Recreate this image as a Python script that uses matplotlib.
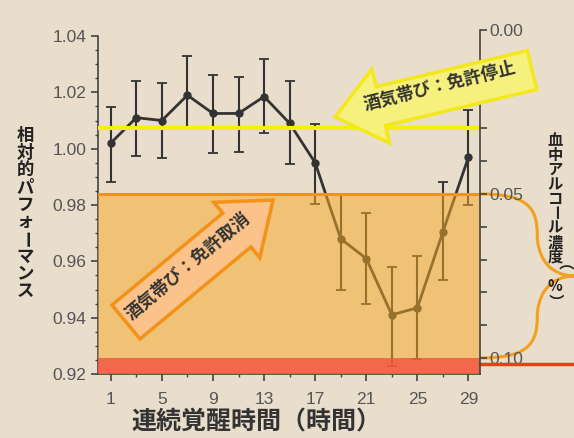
import numpy as np
import matplotlib
matplotlib.use('Agg')
import matplotlib.pyplot as plt
from matplotlib.path import Path
from matplotlib.patches import PathPatch, FancyArrow
import matplotlib.transforms as mtransforms

# data
hours = [1, 3, 5, 7, 9, 11, 13, 15, 17, 19, 21, 23, 25, 27, 29]
perf = [1.002, 1.011, 1.010, 1.019, 1.0125, 1.0125, 1.0185, 1.009,
        0.995, 0.968, 0.961, 0.941, 0.9435, 0.9705, 0.997]
upper = [1.0148, 1.024, 1.0233, 1.033, 1.0262, 1.0255, 1.0318, 1.024,
         1.0088, 0.984, 0.9772, 0.958, 0.962, 0.988, 1.0138]
lower = [0.988, 0.9975, 0.9967, 1.0074, 0.9985, 0.9989, 1.0056, 0.9946,
         0.9804, 0.950, 0.945, 0.923, 0.9255, 0.9535, 0.980]

bac_stop = 0.03      # 免許停止
bac_revoke = 0.05    # 免許取消
bac_high = 0.10

xticks = [1, 5, 9, 13, 17, 21, 25, 29]
yticks = [0.92, 0.94, 0.96, 0.98, 1.00, 1.02, 1.04]
rticks = [0.00, 0.05, 0.10]

jp = ['Noto Sans CJK JP', 'DejaVu Sans']
num = ['Liberation Sans', 'DejaVu Sans']
bg = '#e9ddcc'
gray = '#555555'

fig = plt.figure(figsize=(5.74, 4.38), dpi=100, facecolor=bg)

# main axis (performance)
ax = fig.add_axes([0.1707, 0.1461, 0.6655, 0.7717])
ax.patch.set_visible(False)
err = [np.array(perf) - np.array(lower), np.array(upper) - np.array(perf)]
ax.errorbar(hours, perf, yerr=err, color='#333333', lw=2, marker='o', ms=5,
            ecolor='#333333', elinewidth=1.5, capsize=3.5, capthick=1.3)
ax.set_xlim(0, 29.9)
ax.set_ylim(0.92, 1.04)
ax.set_xticks(xticks)
ax.set_xticks(hours, minor=True)
ax.set_yticks(yticks)
ax.set_yticks(np.arange(0.92, 1.0401, 0.005), minor=True)
ax.set_yticklabels(['%.2f' % v for v in yticks])
for s in ['top', 'right']:
    ax.spines[s].set_visible(False)
for s in ['left', 'bottom']:
    ax.spines[s].set_color('#444444')
    ax.spines[s].set_linewidth(1.2)
ax.tick_params(which='major', direction='out', length=5, width=1.2, color='#444444',
               labelcolor=gray, labelsize=12.5)
ax.tick_params(which='minor', direction='out', length=2.5, width=1, color='#444444')
ax.tick_params(axis='x', pad=8)
for lab in ax.get_xticklabels() + ax.get_yticklabels():
    lab.set_family(num)

# right axis (blood alcohol), drawn on top of the data
ax2 = fig.add_axes([0.1707, 0.1461, 0.6655, 0.7854])
ax2.patch.set_visible(False)
ax2.set_xlim(ax.get_xlim())
ax2.set_ylim(0.1049, 0.0)
ax2.set_xticks([])
ax2.yaxis.tick_right()
ax2.set_yticks(rticks)
ax2.set_yticks(np.arange(0, 0.101, 0.01), minor=True)
ax2.set_yticklabels(['%.2f' % v for v in rticks])
for s in ['top', 'left', 'bottom']:
    ax2.spines[s].set_visible(False)
ax2.spines['right'].set_color('#444444')
ax2.spines['right'].set_linewidth(1.2)
ax2.tick_params(which='both', direction='out', length=5, width=1.2, color='#444444',
                labelcolor=gray, labelsize=12.5, pad=2)
for lab in ax2.get_yticklabels():
    lab.set_family(num)

ax2.axhspan(bac_revoke, bac_high, color='#f6ab26', alpha=0.52, lw=0)
ax2.axhspan(bac_high, 0.1049, color='#f55a3c', alpha=0.9, lw=0)
ax2.axhline(bac_revoke, color='#f29020', lw=2.2)
ax2.axhline(bac_stop, color='#f5ef10', lw=3)
ax2.axhline(bac_high + 0.0017, xmin=1.0, xmax=1.25, color='#f03a18', lw=2.5, clip_on=False)

# curly brace from 0.05 to 0.10 on the right side
mid = (bac_revoke + bac_high) / 2
q = (bac_high - bac_revoke) / 4
verts = [(1.0, bac_revoke), (1.12, bac_revoke), (1.15, bac_revoke + 0.3 * q), (1.15, bac_revoke + q),
         (1.15, mid - 0.6 * q), (1.17, mid), (1.25, mid),
         (1.17, mid), (1.15, mid + 0.6 * q), (1.15, bac_high - q),
         (1.15, bac_high - 0.3 * q), (1.12, bac_high), (1.0, bac_high)]
codes = [Path.MOVETO] + [Path.CURVE4] * 12
trans = mtransforms.blended_transform_factory(ax2.transAxes, ax2.transData)
brace = PathPatch(Path(verts, codes), fc='none', ec='#f2a020', lw=2.2,
                  transform=trans, clip_on=False)
ax2.add_patch(brace)

# arrow labels (figure inches, so the shapes keep their proportions)
fig.add_artist(FancyArrow(5.32, 3.68, -1.97, -0.47, width=0.40, head_width=0.76,
                          head_length=0.47, length_includes_head=True,
                          fc='#f6f07c', ec='#f2e81c', lw=2.5,
                          transform=fig.dpi_scale_trans))
fig.add_artist(FancyArrow(1.26, 1.16, 1.47, 1.22, width=0.44, head_width=0.72,
                          head_length=0.47, length_includes_head=True,
                          fc='#fbc38a', ec='#f29218', lw=2.5,
                          transform=fig.dpi_scale_trans))
fig.text(440 / 574, 1 - 86 / 438, '酒気帯び：免許停止', family=jp, fontsize=12.5,
         fontweight='bold', color='#333333', rotation=14, ha='center', va='center')
fig.text(188 / 574, 1 - 266 / 438, '酒気帯び：免許取消', family=jp, fontsize=12.5,
         fontweight='bold', color='#333333', rotation=40, ha='center', va='center')


def vtext(x, ytop, step, s, size):
    for i, ch in enumerate(s):
        rot = -90 if ch in 'ー（）' else 0
        fig.text(x, ytop - i * step, ch, family=jp, fontsize=size, fontweight='bold',
                 color='#222222', rotation=rot, ha='center', va='center')


vtext(0.044, 1 - 136 / 438, 17.2 / 438, '相対的パフォーマンス', 12.5)
vtext(0.967, 1 - 140 / 438, 14.6 / 438, '血中アルコール濃度（%）', 11)

fig.text(0.447, 0.036, '連続覚醒時間（時間）', family=jp, fontsize=18, fontweight='bold',
         color='#333333', ha='center', va='center')

fig.savefig('out.png', dpi=100, facecolor=bg)
